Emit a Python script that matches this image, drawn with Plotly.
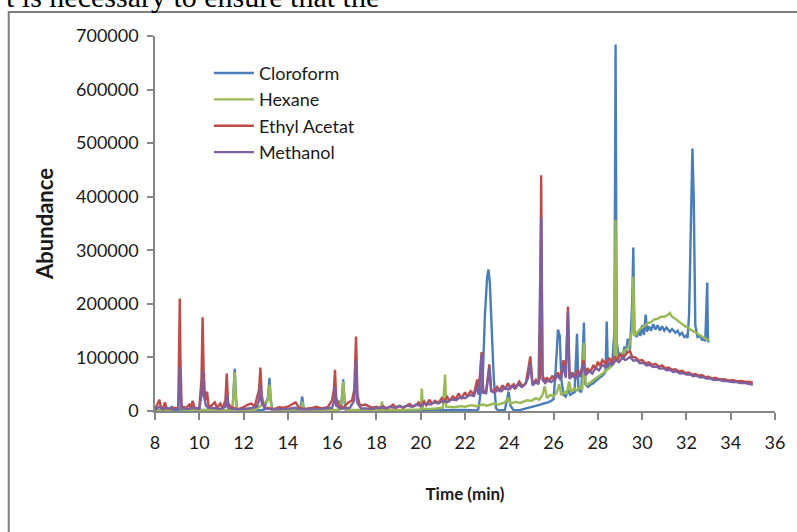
import plotly.graph_objects as go

# ---------------- data ----------------
cloroform_time = [8.0, 8.5, 8.7, 8.75, 8.8, 9.2, 9.8, 10.5, 11.0, 11.5, 11.55, 11.6, 11.65, 11.7,
                  12.3, 12.9, 13.1, 13.17, 13.23, 13.3, 14.0, 14.55, 14.65, 14.72, 15.5, 16.3,
                  16.35, 16.4, 16.45, 16.5, 16.56, 16.62, 17.5, 18.3, 19.0, 20.0, 21.0, 22.0,
                  22.5, 22.6, 22.8, 22.9, 23.0, 23.06, 23.12, 23.2, 23.3, 23.4, 23.5, 23.8,
                  23.9, 23.97, 24.05, 24.2, 24.5, 24.7, 24.85, 25.0, 25.2, 25.4, 25.55, 25.75,
                  25.9, 26.0, 26.1, 26.2, 26.28, 26.35, 26.45, 26.55, 26.65, 26.75, 26.85, 26.95,
                  27.06, 27.12, 27.25, 27.37, 27.43, 27.55, 27.7, 27.8, 27.9, 28.0, 28.1, 28.2,
                  28.3, 28.35, 28.4, 28.45, 28.55, 28.65, 28.75, 28.8, 28.85, 28.95, 29.04, 29.12,
                  29.2, 29.28, 29.35, 29.45, 29.55, 29.6, 29.65, 29.75, 29.85, 29.92, 30.0, 30.08,
                  30.16, 30.22, 30.3, 30.4, 30.5, 30.6, 30.7, 30.8, 30.9, 31.0, 31.1, 31.25, 31.35,
                  31.5, 31.6, 31.7, 31.8, 31.9, 32.0, 32.05, 32.12, 32.2, 32.27, 32.33, 32.4, 32.5,
                  32.6, 32.7, 32.8, 32.85, 32.9, 32.94, 32.97, 33.0]
cloroform_abund = [1000, 2000, 3000, 9000, 2000, 1500, 2000, 2000, 1500, 2000, 40000, 79000, 30000, 2000,
                   2000, 1500, 25000, 62000, 20000, 2000, 1500, 3000, 27000, 3000, 1500, 2000,
                   20000, 3000, 30000, 59000, 20000, 2000, 1500, 2000, 1000, 1500, 1000, 2000,
                   1000, 3000, 60000, 180000, 250000, 264000, 240000, 150000, 60000, 5000, 1000, 2000,
                   20000, 36000, 10000, 1000, 2000, 4000, 6000, 8000, 10000, 12000, 14000, 16000,
                   19000, 22000, 80000, 152000, 140000, 60000, 30000, 27000, 40000, 30000, 33000, 35000,
                   144000, 40000, 35000, 165000, 50000, 45000, 50000, 52000, 56000, 59000, 63000, 66000,
                   70000, 75000, 167000, 80000, 85000, 90000, 150000, 684000, 130000, 100000, 108000, 100000,
                   120000, 110000, 135000, 115000, 200000, 305000, 150000, 138000, 150000, 140000, 160000, 142000,
                   180000, 148000, 158000, 150000, 162000, 152000, 160000, 150000, 158000, 150000, 156000, 148000, 153000,
                   146000, 150000, 142000, 146000, 138000, 141000, 136000, 180000, 380000, 490000, 400000, 160000, 138000,
                   140000, 133000, 135000, 130000, 220000, 240000, 135000, 128000]

hexane_time = [8.0, 8.6, 8.75, 8.8, 9.5, 10.5, 11.5, 11.55, 11.6, 11.65, 11.7, 12.5, 13.1, 13.17,
               13.23, 13.3, 14.6, 14.65, 14.72, 16.3, 16.45, 16.5, 16.56, 16.62, 17.5, 18.2,
               18.25, 18.3, 19.0, 20.0, 20.05, 20.1, 20.5, 21.0, 21.1, 21.15, 21.5, 21.8, 22.0,
               22.3, 22.5, 22.8, 23.0, 23.3, 23.5, 23.8, 23.95, 24.05, 24.3, 24.5, 24.8, 25.0,
               25.2, 25.35, 25.5, 25.6, 25.7, 25.85, 26.0, 26.15, 26.25, 26.35, 26.5, 26.6, 26.7,
               26.8, 26.95, 27.05, 27.2, 27.3, 27.37, 27.45, 27.6, 27.75, 27.9, 28.0, 28.15, 28.3,
               28.45, 28.6, 28.75, 28.8, 28.85, 29.0, 29.2, 29.4, 29.55, 29.6, 29.65, 29.8, 29.95,
               30.1, 30.25, 30.4, 30.55, 30.7, 30.85, 31.0, 31.15, 31.25, 31.35, 31.5, 31.65, 31.8,
               31.95, 32.1, 32.25, 32.4, 32.55, 32.7, 32.85, 33.0]
hexane_abund = [1000, 2000, 2000, 5000, 1500, 2000, 1500, 35000, 72000, 25000, 2000, 1500, 20000, 49000,
                15000, 1500, 3000, 18000, 2000, 2000, 25000, 55000, 15000, 2000, 1500, 2000,
                18000, 2000, 2000, 3000, 42000, 4000, 4000, 6000, 68000, 8000, 7000, 9000, 8000,
                11000, 9000, 12000, 10000, 14000, 12000, 16000, 25000, 14000, 17000, 15000, 20000, 19000,
                24000, 21000, 30000, 46000, 24000, 30000, 27000, 35000, 50000, 30000, 36000, 33000, 55000,
                36000, 42000, 38000, 45000, 40000, 128000, 48000, 52000, 56000, 60000, 64000, 68000, 73000,
                78000, 83000, 90000, 357000, 95000, 105000, 112000, 120000, 150000, 251000, 140000, 148000, 155000,
                158000, 164000, 166000, 171000, 172000, 176000, 176000, 179000, 183000, 176000, 172000, 167000, 163000,
                158000, 155000, 150000, 147000, 143000, 139000, 135000, 131000]

ethyl_time = [8.0, 8.1, 8.2, 8.27, 8.35, 8.45, 8.52, 8.7, 8.85, 9.05, 9.1, 9.12, 9.15, 9.2, 9.4,
              9.55, 9.62, 9.7, 9.78, 10.0, 10.1, 10.15, 10.2, 10.27, 10.35, 10.42, 10.55, 10.7,
              10.8, 10.95, 11.05, 11.18, 11.24, 11.3, 11.4, 11.6, 11.8, 12.0, 12.2, 12.35, 12.5,
              12.62, 12.7, 12.76, 12.82, 12.9, 13.0, 13.2, 13.4, 13.6, 13.8, 14.0, 14.2, 14.35,
              14.5, 14.7, 15.0, 15.3, 15.5, 15.8, 16.0, 16.08, 16.13, 16.18, 16.3, 16.5, 16.7,
              16.9, 17.0, 17.08, 17.14, 17.25, 17.5, 17.8, 18.0, 18.15, 18.3, 18.45, 18.6, 18.75,
              18.9, 19.05, 19.2, 19.35, 19.5, 19.65, 19.8, 19.9, 20.0, 20.15, 20.25, 20.4, 20.5,
              20.65, 20.8, 20.95, 21.05, 21.2, 21.3, 21.45, 21.6, 21.7, 21.85, 22.0, 22.1, 22.25,
              22.4, 22.55, 22.62, 22.75, 22.82, 22.95, 23.1, 23.18, 23.3, 23.45, 23.55, 23.7, 23.8,
              23.95, 24.05, 24.2, 24.3, 24.45, 24.6, 24.75, 24.85, 24.95, 25.05, 25.2, 25.3, 25.38,
              25.44, 25.5, 25.6, 25.7, 25.8, 25.95, 26.05, 26.2, 26.3, 26.45, 26.55, 26.65, 26.72,
              26.85, 26.95, 27.1, 27.2, 27.35, 27.45, 27.55, 27.65, 27.8, 27.9, 28.0, 28.1, 28.2,
              28.35, 28.5, 28.6, 28.75, 28.9, 29.0, 29.15, 29.3, 29.45, 29.55, 29.7, 29.85, 30.0,
              30.15, 30.3, 30.45, 30.6, 30.75, 30.9, 31.05, 31.2, 31.35, 31.5, 31.65, 31.8, 31.95,
              32.1, 32.25, 32.4, 32.55, 32.7, 32.85, 33.0, 33.15, 33.3, 33.5, 33.7, 33.9, 34.1,
              34.3, 34.5, 34.7, 34.85, 35.0]
ethyl_abund = [3000, 12000, 21000, 6000, 4000, 16000, 5000, 4000, 6000, 5000, 120000, 210000, 100000, 8000, 6000,
               12000, 5000, 19000, 6000, 5000, 60000, 175000, 70000, 20000, 36000, 8000, 10000, 16000,
               6000, 14000, 5000, 20000, 70000, 15000, 8000, 5000, 4000, 7000, 12000, 14000, 8000,
               25000, 40000, 81000, 30000, 10000, 6000, 5000, 4000, 7000, 6000, 8000, 12000, 16000,
               6000, 4000, 5000, 8000, 5000, 7000, 20000, 40000, 77000, 25000, 10000, 6000, 15000,
               20000, 40000, 139000, 30000, 10000, 12000, 6000, 8000, 5000, 9000, 5000, 7000, 12000,
               6000, 10000, 6000, 9000, 13000, 8000, 11000, 16000, 10000, 18000, 11000, 21000, 13000,
               19000, 15000, 24000, 17000, 26000, 19000, 27000, 22000, 33000, 24000, 35000, 27000, 37000,
               31000, 59000, 33000, 110000, 38000, 35000, 87000, 40000, 36000, 45000, 38000, 48000, 40000,
               52000, 42000, 50000, 44000, 55000, 46000, 52000, 75000, 102000, 50000, 58000, 51000, 62000,
               440000, 68000, 54000, 63000, 56000, 66000, 57000, 72000, 60000, 95000, 66000, 195000, 63000,
               72000, 62000, 76000, 66000, 95000, 70000, 80000, 72000, 86000, 78000, 92000, 84000, 95000,
               88000, 99000, 92000, 101000, 96000, 106000, 99000, 108000, 112000, 101000, 100000, 94000, 95000,
               89000, 91000, 86000, 88000, 83000, 85000, 80000, 81000, 77000, 78000, 74000, 75000, 71000,
               72000, 68000, 69000, 66000, 67000, 63000, 64000, 61000, 62000, 59000, 59500, 57000, 57500,
               55500, 56000, 54000, 54500, 53000]

methanol_time = [8.0, 8.2, 8.35, 8.5, 8.8, 9.05, 9.1, 9.12, 9.15, 9.2, 9.5, 9.7, 10.0, 10.1, 10.15,
                 10.2, 10.3, 10.4, 10.7, 11.0, 11.18, 11.24, 11.3, 11.6, 12.0, 12.3, 12.6, 12.7,
                 12.76, 12.82, 13.0, 13.5, 14.0, 14.3, 14.6, 15.0, 15.5, 16.0, 16.1, 16.13, 16.18,
                 16.4, 16.8, 17.0, 17.08, 17.14, 17.3, 17.8, 18.0, 18.2, 18.4, 18.6, 18.8, 19.0,
                 19.2, 19.4, 19.6, 19.8, 20.0, 20.2, 20.4, 20.6, 20.8, 21.0, 21.2, 21.4, 21.6,
                 21.8, 22.0, 22.2, 22.4, 22.55, 22.62, 22.75, 22.82, 22.95, 23.1, 23.18, 23.35, 23.5,
                 23.65, 23.8, 23.95, 24.1, 24.25, 24.4, 24.55, 24.7, 24.85, 24.95, 25.05, 25.2, 25.32,
                 25.44, 25.5, 25.62, 25.75, 25.9, 26.05, 26.2, 26.32, 26.45, 26.55, 26.65, 26.72, 26.85,
                 27.0, 27.12, 27.22, 27.35, 27.45, 27.6, 27.75, 27.9, 28.05, 28.2, 28.35, 28.5, 28.65,
                 28.8, 28.95, 29.1, 29.25, 29.45, 29.6, 29.75, 29.9, 30.05, 30.2, 30.35, 30.5, 30.65,
                 30.8, 30.95, 31.1, 31.25, 31.4, 31.55, 31.7, 31.85, 32.0, 32.15, 32.3, 32.45, 32.6,
                 32.75, 32.9, 33.05, 33.25, 33.45, 33.65, 33.85, 34.05, 34.25, 34.45, 34.65, 34.85, 35.0]
methanol_abund = [2000, 8000, 3000, 6000, 3000, 4000, 50000, 83000, 40000, 5000, 4000, 6000, 4000, 30000, 77000,
                  30000, 10000, 6000, 5000, 4000, 8000, 31000, 6000, 3000, 4000, 5000, 8000, 20000,
                  49000, 15000, 4000, 3000, 4000, 6000, 3000, 3000, 4000, 6000, 20000, 45000, 10000,
                  4000, 6000, 20000, 96000, 15000, 5000, 4000, 5000, 7000, 5000, 8000, 6000, 9000,
                  7000, 10000, 8000, 12000, 10000, 14000, 12000, 16000, 14000, 19000, 17000, 22000, 20000,
                  26000, 24000, 30000, 28000, 45000, 30000, 105000, 34000, 33000, 80000, 37000, 34000, 41000,
                  37000, 44000, 40000, 47000, 42000, 50000, 45000, 49000, 62000, 90000, 48000, 54000, 50000,
                  360000, 58000, 52000, 58000, 54000, 60000, 66000, 58000, 85000, 62000, 185000, 60000, 66000,
                  61000, 70000, 64000, 88000, 67000, 74000, 70000, 80000, 76000, 86000, 82000, 90000, 87000,
                  95000, 91000, 99000, 95000, 101000, 94000, 95000, 89000, 90000, 85000, 86000, 82000, 83000,
                  79000, 80000, 76000, 77000, 73000, 74000, 70000, 71000, 68000, 68500, 65000, 66000, 63000,
                  63500, 60500, 61000, 58000, 58500, 56000, 56000, 54000, 54000, 52000, 52000, 50500, 49000]

series_names = ["Cloroform", "Hexane", "Ethyl Acetat", "Methanol"]
series_colors = ["#4A7EBB", "#98B954", "#BE4B48", "#7D60A0"]

x_ticks = list(range(8, 37, 2))
y_ticks = list(range(0, 700001, 100000))

# ---------------- figure ----------------
fig = go.Figure()
for name, color, xs, ys in zip(series_names, series_colors,
                               [cloroform_time, hexane_time, ethyl_time, methanol_time],
                               [cloroform_abund, hexane_abund, ethyl_abund, methanol_abund]):
    fig.add_trace(go.Scatter(x=xs, y=ys, name=name, mode="lines",
                             line=dict(color=color, width=2.4)))

axis_col = "#868686"
fig.update_layout(
    width=797, height=532,
    margin=dict(l=155, r=19, t=36, b=121),
    paper_bgcolor="white", plot_bgcolor="white",
    font=dict(family="Lato", size=18, color="#1a1a1a"),
    showlegend=True,
    legend=dict(x=0.087, y=0.95, xanchor="left", yanchor="top",
                bgcolor="rgba(0,0,0,0)", font=dict(family="Lato", size=18, color="#1a1a1a"),
                itemwidth=40, tracegroupgap=0),
    xaxis=dict(range=[8, 36], tickvals=x_ticks, ticktext=[str(v) for v in x_ticks],
               showgrid=False, zeroline=False, showline=True, linecolor=axis_col, linewidth=1.5,
               ticks="outside", ticklen=7, tickcolor=axis_col, tickwidth=1.5,
               ticklabelstandoff=8,
               title=dict(text="<b>Time (min)</b>", font=dict(family="Lato", size=17), standoff=36)),
    yaxis=dict(range=[0, 700000], tickvals=y_ticks, ticktext=[str(v) for v in y_ticks],
               showgrid=False, zeroline=False, showline=True, linecolor=axis_col, linewidth=1.5,
               ticks="outside", ticklen=6, tickcolor=axis_col, tickwidth=1.5,
               ticklabelstandoff=5,
               title=dict(text="<b>Abundance</b>", font=dict(family="Lato", size=22), standoff=16)),
)

# outer frame of the embedded chart (extends beyond the visible page crop)
fig.add_shape(type="rect", xref="paper", yref="paper",
              x0=(8 - 155) / 623, x1=1.2, y0=-0.6, y1=(411 - 12) / 375,
              line=dict(color="#7f7f7f", width=2), fillcolor="rgba(0,0,0,0)", layer="below")

# cropped line of the surrounding document text
fig.add_annotation(text="t is necessary to ensure that the", xref="paper", yref="paper",
                   x=(3 - 155) / 623, y=(411 + 3) / 375, xanchor="left", yanchor="middle",
                   showarrow=False, font=dict(family="Liberation Serif", size=30, color="#000"))

fig.write_html("out.html", config={"displayModeBar": False},
               post_script="document.body.style.margin='0';")
